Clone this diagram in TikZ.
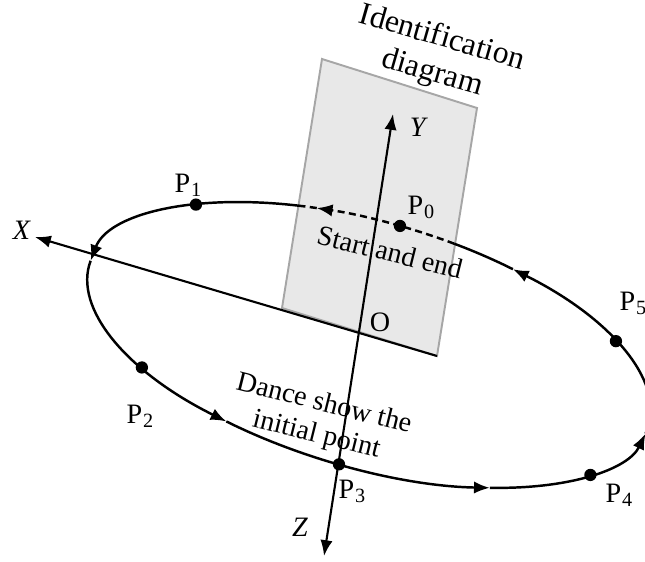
\documentclass[tikz,border=0pt]{standalone}
\usepackage{fontspec}
\setmainfont{Liberation Serif}
\usetikzlibrary{arrows.meta,positioning}

\tikzset{
  axis/.style={line width=1.2pt},
  orbit/.style={line width=1.4pt},
  orbitarc/.style={x radius=291,y radius=123},
  tip/.style={-{Latex[length=9pt,width=7pt]}},
  pt/.style={circle,fill,inner sep=0pt,minimum size=7pt},
  lab/.style={font=\fontsize{16}{18}\selectfont,inner sep=1pt},
}
\newcommand{\pname}[1]{P\kern0.5pt\raisebox{-2.2pt}{\fontsize{11.5}{12}\selectfont #1}}

\begin{document}
\begin{tikzpicture}[x=0.02cm,y=-0.02cm]
\useasboundingbox (0,0) rectangle (645,561);
% identification diagram
\filldraw[fill=black!9,draw=black!35,line width=1.1pt] (322,59) -- (477,108) -- (437,356) -- (282,308) -- cycle;
\node[lab,font=\fontsize{18}{20.5}\selectfont,align=center,rotate=-16] (idtext) at (437,56) {Identification\\diagram};
% axes
\coordinate (O) at (359,333);
\coordinate (xfoot) at (437,356);
\coordinate (xtip) at (35,237);
\coordinate (ytip) at (393,114);
\coordinate (ztip) at (324,556);
\draw[axis,tip] (xfoot) -- (xtip);
\draw[axis,{Latex[length=9pt,width=7pt]}-{Latex[length=9pt,width=7pt]}] (ztip) -- (ytip);
\node[lab] (xlab) at (22,230) {\textit{X}};
\node[lab] (ylab) at (419,127) {\textit{Y}};
\node[lab] (zlab) at (300,527) {\textit{Z}};
\node[lab] (olab) at (380,322) {O};
% track of the dance
\begin{scope}[shift={(369,345)},rotate=-16]
\foreach \a/\b in {-111.3/-178,-178/-246.5,-246.5/-302.3,-302.3/-355.8,-355.8/-426.2}
  {\draw[orbit,tip] (\a:291 and 123) arc[orbitarc,start angle=\a,end angle=\b];}
\draw[orbit] (-426.2:291 and 123) arc[orbitarc,start angle=-426.2,end angle=-439.3];
\draw[orbit,dash pattern=on 4pt off 2.5pt,tip] (-79.3:291 and 123) arc[orbitarc,start angle=-79.3,end angle=-107.6];
\draw[orbit,dash pattern=on 4pt off 2.5pt] (-107.6:291 and 123) arc[orbitarc,start angle=-107.6,end angle=-111.3];
\foreach \n/\t in {0/-90.6,1/-134.8,2/-223.2,3/-270.8,4/-328.7,5/-35.7}
  {\node[pt] (p\n) at (\t:291 and 123) {};}
\end{scope}
\node[lab] (lp0) at (421,207) {\pname{0}};
\node[lab] (lp1) at (188,185) {\pname{1}};
\node[lab] (lp2) at (140,416) {\pname{2}};
\node[lab] (lp3) at (352,491) {\pname{3}};
\node[lab] (lp4) at (619,495) {\pname{4}};
\node[lab] (lp5) at (633,303) {\pname{5}};
\node[lab,rotate=-14] (start) at (390,252) {Start and end};
\node[lab,align=center,rotate=-14] (dance) at (320,420) {Dance show the\\initial point};
\end{tikzpicture}
\end{document}
